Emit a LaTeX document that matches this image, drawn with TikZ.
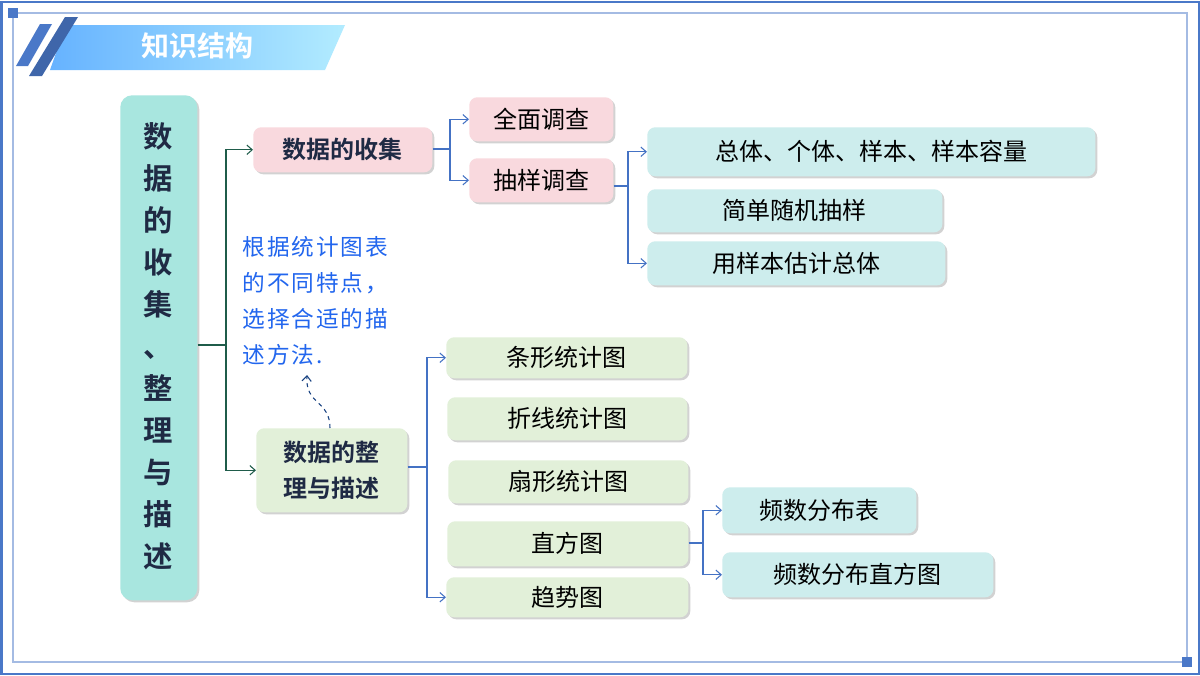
\documentclass[tikz,border=0pt]{standalone}
\usepackage{fontspec}
\setmainfont{Noto Sans CJK SC}
\newfontfamily\cjkb{Noto Sans CJK SC Bold}
\usetikzlibrary{shadows,arrows.meta}
\definecolor{frameblue}{HTML}{4A78C8}
\definecolor{lineblue}{HTML}{4472C4}
\definecolor{dgreen}{HTML}{1F5C4A}
\definecolor{tealA}{HTML}{A8E6DF}
\definecolor{tealB}{HTML}{CDEDED}
\definecolor{pinkA}{HTML}{F9D9DE}
\definecolor{greenA}{HTML}{E2F0D9}
\definecolor{navy}{HTML}{1F2A44}
\definecolor{annot}{HTML}{2266EE}
\tikzset{
 bx/.style={rounded corners=6pt,drop shadow={shadow xshift=1.5pt,shadow yshift=-1.5pt,opacity=0.35},inner sep=0pt,font=\fontsize{18}{22}\selectfont},
 pk/.style={bx,fill=pinkA},
 tl/.style={bx,fill=tealB},
 gr/.style={bx,fill=greenA},
 arb/.style={draw=lineblue,line width=0.8pt,-{Straight Barb[length=4pt,width=7pt]}},
 lnb/.style={draw=lineblue,line width=0.8pt},
 arg/.style={draw=dgreen,line width=0.8pt,-{Straight Barb[length=4pt,width=7pt]}},
 lng/.style={draw=dgreen,line width=0.8pt},
}
\newcommand{\boxat}[6]{\node[#1,minimum width=#4*0.75pt-#2*0.75pt,minimum height=#5*0.75pt-#3*0.75pt,anchor=north west] (#6) at (#2,#3) {};}
\begin{document}
\begin{tikzpicture}[x=0.75pt,y=-0.75pt]
\useasboundingbox (0,0) rectangle (1200,675);
\fill[white] (0,0) rectangle (1200,675);
\draw[frameblue,line width=1.5pt] (1.5,1.5) rectangle (1198.5,673.5);
\draw[frameblue!50,line width=0.8pt] (13,13) rectangle (1187,662);
\fill[frameblue] (8,8) rectangle (18,18);
\fill[frameblue] (1182,657) rectangle (1192,667);
% banner
\shade[left color=blue!50!cyan!60,right color=blue!25!cyan!30] (66,25) -- (345,25) -- (325,70) -- (50,70) -- cycle;
\fill[frameblue] (40,24) -- (52,24) -- (28,66) -- (16,66) -- cycle;
\fill[frameblue!85!black] (65,17) -- (78,17) -- (42,76) -- (29,76) -- cycle;
\node[text=white,font=\cjkb\fontsize{21}{24}\selectfont] (title) at (197,46) {知识结构};
% left big
\node[bx,fill=tealA,rounded corners=9pt,minimum width=57.75pt,minimum height=378.75pt,anchor=north west] (root) at (120,95) {};
\node[font=\cjkb\fontsize{22}{31.5}\selectfont,text=navy,align=center] (rt) at (158,346) {数\\据\\的\\收\\集\\、\\整\\理\\与\\描\\述};
% level 1
\boxat{pk}{253}{127}{432}{172}{c1}
\node[font=\cjkb\fontsize{18}{22}\selectfont,text=navy] at (c1) {数据的收集};
\boxat{gr}{256}{428}{407}{512}{c2}
\node[font=\cjkb\fontsize{18}{27}\selectfont,text=navy,align=center] at (c2) {数据的整\\理与描述};
% level 2
\boxat{pk}{469}{97}{613}{141}{a1}\node at (a1) {\fontsize{18}{22}\selectfont 全面调查};
\boxat{pk}{469}{158}{613}{202}{a2}\node at (a2) {\fontsize{18}{22}\selectfont 抽样调查};
\boxat{tl}{647}{127}{1095}{176}{b1}\node at (b1) {\fontsize{18}{22}\selectfont 总体、个体、样本、样本容量};
\boxat{tl}{647}{189}{942}{232}{b2}\node at (b2) {\fontsize{18}{22}\selectfont 简单随机抽样};
\boxat{tl}{647}{241}{945}{285}{b3}\node at (b3) {\fontsize{18}{22}\selectfont 用样本估计总体};
\boxat{gr}{446}{337}{687}{378}{g1}\node at (g1) {\fontsize{18}{22}\selectfont 条形统计图};
\boxat{gr}{447}{397}{687}{440}{g2}\node at (g2) {\fontsize{18}{22}\selectfont 折线统计图};
\boxat{gr}{448}{460}{688}{503}{g3}\node at (g3) {\fontsize{18}{22}\selectfont 扇形统计图};
\boxat{gr}{447}{521}{688}{566}{g4}\node at (g4) {\fontsize{18}{22}\selectfont 直方图};
\boxat{gr}{446}{577}{688}{617}{g5}\node at (g5) {\fontsize{18}{22}\selectfont 趋势图};
\boxat{tl}{722}{487}{916}{533}{h1}\node at (h1) {\fontsize{18}{22}\selectfont 频数分布表};
\boxat{tl}{722}{552}{993}{597}{h2}\node at (h2) {\fontsize{18}{22}\selectfont 频数分布直方图};
% annotation
\node[anchor=north west,text=annot,align=left,font=\fontsize{17}{27}\selectfont\addfontfeatures{LetterSpace=8}] (note) at (238,232) {根据统计图表\\的不同特点，\\选择合适的描\\述方法.};
% connectors
\coordinate (j0) at (226,345);
\draw[lng] (root.east|-j0) -- (j0);
\draw[arg] (j0) |- (c1.west);
\draw[arg] (j0) |- (c2.west);
\coordinate (j1) at (450,149);
\draw[lnb] (c1.east|-j1) -- (j1);
\draw[arb] (j1) |- (a1.west);
\draw[arb] (j1) |- (a2.west);
\coordinate (j2) at (628,186);
\draw[lnb] (a2.east|-j2) -- (j2);
\draw[arb] (j2) |- (b1.west);
\draw[arb] (j2) |- (b3.west);
\coordinate (j3) at (427,467);
\draw[lnb] (c2.east|-j3) -- (j3);
\draw[arb] (j3) |- (g1.west);
\draw[arb] (j3) |- (g5.west);
\coordinate (j4) at (703,543);
\draw[lnb] (g4.east|-j4) -- (j4);
\draw[arb] (j4) |- (h1.west);
\draw[arb] (j4) |- (h2.west);
\coordinate (n1) at (307,375);
\draw[draw=dgreen!70!blue,line width=0.8pt,dashed,-{Straight Barb[length=4pt,width=7pt]}] (c2.north-|330,0) .. controls (330,400) and (305,405) .. (n1);
\end{tikzpicture}
\end{document}
